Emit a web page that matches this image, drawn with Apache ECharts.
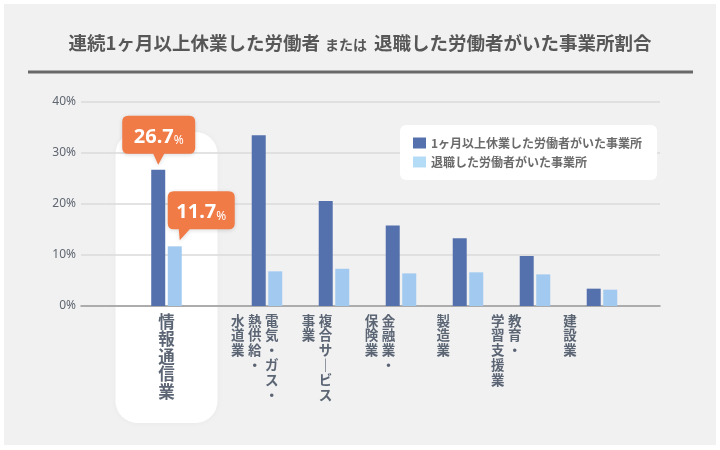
<!DOCTYPE html>
<html>
<head>
<meta charset="utf-8">
<script src="https://cdn.jsdelivr.net/npm/echarts@6/dist/echarts.min.js"></script>
<style>
    html, body { margin: 0; padding: 0; background: #ffffff; }
    #card { position: absolute; left: 4px; top: 4px; width: 712px; height: 441px; background: #f1f1f1; }
    #main { position: absolute; left: 0; top: 0; width: 720px; height: 450px; }
</style>
</head>
<body>
<div id="card"></div>
<div id="main"></div>
<script>
// 業種(改行 = 縦書きの列の区切り、右から左へ読む)
var categories = ['情報通信業', '電気・ガス・\n熱供給・\n水道業', '複合サービス\n事業', '金融業・\n保険業', '製造業', '教育・\n学習支援業', '建設業'];
var seriesNames = ['1ヶ月以上休業した労働者がいた事業所', '退職した労働者がいた事業所'];
var leaveValues = [26.7, 33.5, 20.6, 15.8, 13.3, 9.8, 3.4];
var quitValues = [11.7, 6.8, 7.3, 6.4, 6.6, 6.2, 3.2];
var yTicks = [0, 10, 20, 30, 40];

// 横軸上の並び(情報通信業だけ少し離して置く)
var barSlot = [0, 1.5, 2.5, 3.5, 4.5, 5.5, 6.5];
var labelSlot = [0, 1.316, 2.246, 3.187, 4.131, 5.072, 6.022];

var labelColor = '#5b6574';
var darkBlue = '#5571ad';
var lightBlue = '#a2caf0';
var orange = '#f07b47';
var jp = '"Noto Sans CJK JP", "Noto Sans", sans-serif';

function pairs(values) {
    return values.map(function (v, i) { return [barSlot[i], v]; });
}

// 縦書きラベルをリッチテキストの格子で作る
function verticalLabel(name, style) {
    var cols = name.split('\n');
    var rows = 0;
    cols.forEach(function (c) { rows = Math.max(rows, c.length); });
    var lines = [];
    for (var r = 0; r < rows; r++) {
        var line = '';
        for (var c = cols.length - 1; c >= 0; c--) {
            var ch = cols[c].charAt(r) || '\u3000';
            if (ch === 'ー') ch = '｜';
            line += '{' + style + '|' + ch + '}';
        }
        lines.push(line);
    }
    return lines.join('\n');
}

var chart = echarts.init(document.getElementById('main'));

var option = {
    backgroundColor: 'transparent',
    textStyle: { fontFamily: jp },
    title: {
        left: 'center',
        top: 30,
        padding: 0,
        text: '{a|連続1ヶ月以上休業した労働者}{b|または}{a|退職した労働者がいた事業所割合}',
        textStyle: {
            rich: {
                a: { fontSize: 18.5, fontWeight: 'bold', color: '#575757', lineHeight: 26, fontFamily: jp },
                b: { fontSize: 14, fontWeight: 'bold', color: '#575757', lineHeight: 26, padding: [3, 7, 0, 5], fontFamily: jp }
            }
        }
    },
    legend: {
        orient: 'vertical',
        left: 400,
        top: 125,
        backgroundColor: '#ffffff',
        borderRadius: 6,
        padding: [12, 15, 12, 13],
        itemWidth: 13,
        itemHeight: 11,
        itemGap: 7,
        icon: 'rect',
        textStyle: { fontSize: 12, color: '#6b6b6b', fontWeight: 'bold', fontFamily: jp },
        data: [
            { name: seriesNames[0], itemStyle: { color: darkBlue } },
            { name: seriesNames[1], itemStyle: { color: '#b4dcf6' } }
        ]
    },
    grid: { left: 81, right: 60, top: 102, bottom: 144, containLabel: false },
    xAxis: [
        {
            type: 'value',
            min: -1.276,
            max: 7.366,
            axisLine: { show: true, lineStyle: { color: '#9a9a9a', width: 1.5 } },
            axisTick: { show: false },
            axisLabel: { show: false },
            splitLine: { show: false }
        },
        {
            type: 'value',
            position: 'bottom',
            min: -1.276,
            max: 7.366,
            axisLine: { show: false },
            axisTick: { show: false },
            splitLine: { show: false },
            axisLabel: {
                margin: 7,
                customValues: labelSlot,
                formatter: function (value) {
                    var idx = labelSlot.indexOf(value);
                    if (idx < 0) return '';
                    return verticalLabel(categories[idx], idx === 0 ? 'b' : 's');
                },
                rich: {
                    s: { width: 17, align: 'center', fontSize: 13.5, lineHeight: 14.8, fontWeight: 'bold', color: labelColor, fontFamily: jp },
                    b: { width: 20, align: 'center', fontSize: 16.5, lineHeight: 17.4, fontWeight: 'bold', color: labelColor, fontFamily: jp }
                }
            }
        }
    ],
    yAxis: {
        type: 'value',
        min: yTicks[0],
        max: yTicks[yTicks.length - 1],
        interval: 10,
        axisLine: { show: false },
        axisTick: { show: false },
        axisLabel: { margin: 5, formatter: '{value}%', fontSize: 12, color: '#5f6670', fontFamily: '"Noto Sans", sans-serif' },
        splitLine: { lineStyle: { color: '#dadada', width: 1.5 } }
    },
    series: [
        {
            name: seriesNames[0],
            type: 'bar',
            xAxisIndex: 0,
            barWidth: 14,
            barGap: '18%',
            itemStyle: { color: darkBlue },
            data: pairs(leaveValues),
            markPoint: {
                symbol: 'path://M6,0 H67 Q73,0 73,6 V32 Q73,38 67,38 H42 L36,49 L31,38 H6 Q0,38 0,32 V6 Q0,0 6,0 Z',
                symbolSize: [73, 49],
                symbolOffset: [0.5, -29.5],
                itemStyle: { color: orange, shadowBlur: 4, shadowColor: 'rgba(0,0,0,0.15)', shadowOffsetY: 1 },
                label: {
                    offset: [0, -5.5],
                    formatter: function (p) { return '{n|' + p.value + '}{p|%}'; },
                    rich: {
                        n: { fontSize: 20, fontWeight: 'bold', color: '#fff', lineHeight: 24, verticalAlign: 'bottom', fontFamily: '"Noto Sans", sans-serif' },
                        p: { fontSize: 12, color: '#fff', lineHeight: 18, verticalAlign: 'bottom', fontFamily: '"Noto Sans", sans-serif' }
                    }
                },
                data: [{ coord: [barSlot[0], leaveValues[0]], value: leaveValues[0] }]
            }
        },
        {
            name: seriesNames[1],
            type: 'bar',
            xAxisIndex: 0,
            barWidth: 14,
            barGap: '18%',
            itemStyle: { color: lightBlue },
            data: pairs(quitValues),
            markPoint: {
                symbol: 'path://M6,0 H61 Q67,0 67,6 V32 Q67,38 61,38 H22 L12,49 L11,38 H6 Q0,38 0,32 V6 Q0,0 6,0 Z',
                symbolSize: [67, 49],
                symbolOffset: [26.5, -30.5],
                itemStyle: { color: orange, shadowBlur: 4, shadowColor: 'rgba(0,0,0,0.15)', shadowOffsetY: 1 },
                label: {
                    offset: [0, -5.5],
                    formatter: function (p) { return '{n|' + p.value + '}{p|%}'; },
                    rich: {
                        n: { fontSize: 20, fontWeight: 'bold', color: '#fff', lineHeight: 24, verticalAlign: 'bottom', fontFamily: '"Noto Sans", sans-serif' },
                        p: { fontSize: 12, color: '#fff', lineHeight: 18, verticalAlign: 'bottom', fontFamily: '"Noto Sans", sans-serif' }
                    }
                },
                data: [{ coord: [barSlot[0], quitValues[0]], value: quitValues[0] }]
            }
        }
    ]
};
chart.setOption(option);

// 情報通信業の白い強調枠とタイトル下線
var hx = chart.convertToPixel({ xAxisIndex: 0 }, barSlot[0]);
chart.setOption({
    graphic: [
        {
            type: 'rect',
            z: -1,
            shape: { x: hx - 51, y: 132, width: 102, height: 291, r: 22 },
            style: { fill: '#ffffff', shadowBlur: 6, shadowColor: 'rgba(0,0,0,0.04)' }
        },
        {
            type: 'line',
            shape: { x1: 28, y1: 72, x2: 693, y2: 72 },
            style: { stroke: '#686868', lineWidth: 3 }
        }
    ]
});

window.addEventListener('resize', function () {
    chart.resize();
});
</script>
</body>
</html>
